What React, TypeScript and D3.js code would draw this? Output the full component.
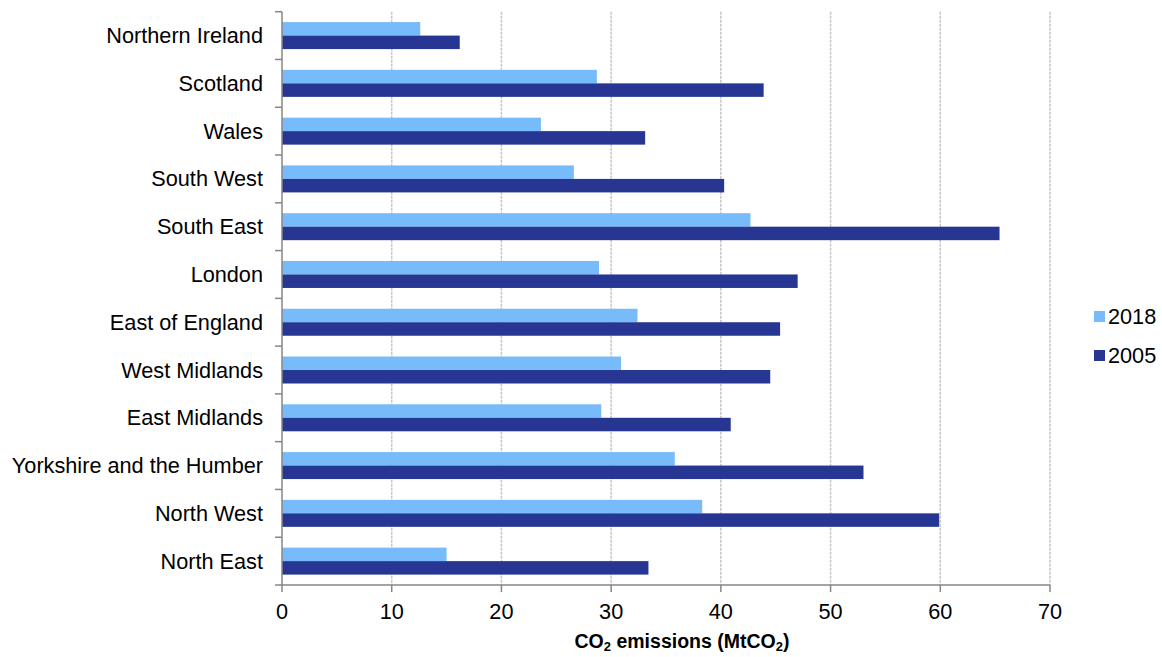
import React from "react";
import * as d3 from "d3";

const categories = [
  "Northern Ireland",
  "Scotland",
  "Wales",
  "South West",
  "South East",
  "London",
  "East of England",
  "West Midlands",
  "East Midlands",
  "Yorkshire and the Humber",
  "North West",
  "North East",
];
const seriesNames = ["2018", "2005"];
const values2018 = [12.6, 28.7, 23.6, 26.6, 42.7, 28.9, 32.4, 30.9, 29.1, 35.8, 38.3, 15.0];
const values2005 = [16.2, 43.9, 33.1, 40.3, 65.4, 47.0, 45.4, 44.5, 40.9, 53.0, 59.9, 33.4];
const xTicks = [0, 10, 20, 30, 40, 50, 60, 70];
const colors = ["#78BBFB", "#263692"];

export default function App() {
  const W = 1162, H = 657;
  const left = 282, right = 1050, top = 11.7, bottom = 585;
  const x = d3.scaleLinear().domain([0, 70]).range([left, right]);
  const y = d3.scaleBand<string>().domain(categories).range([top, bottom]).paddingInner(0.435).paddingOuter(0.2175);
  const ys = d3.scaleBand<string>().domain(seriesNames).range([0, y.bandwidth()]);
  const series = [values2018, values2005];
  const step = (bottom - top) / categories.length;
  const font = "'Liberation Sans', Arial, sans-serif";
  const fs = 21.7;
  return (
    <svg width={W} height={H} style={{ position: "absolute", left: 0, top: 0 }} fontFamily={font}>
      <rect width={W} height={H} fill="#fff" />
      {xTicks.slice(1).map((t) => (
        <line key={t} x1={x(t)} x2={x(t)} y1={top} y2={bottom} stroke="#c6c6c6" strokeWidth={1.5} strokeDasharray="3,1" />
      ))}
      {categories.map((c, i) =>
        series.map((s, k) => (
          <rect
            key={c + k}
            x={x(0)}
            y={(y(c) as number) + (ys(seriesNames[k]) as number)}
            width={x(s[i]) - x(0)}
            height={ys.bandwidth()}
            fill={colors[k]}
          />
        ))
      )}
      {/* y axis */}
      <line x1={left} x2={left} y1={top} y2={bottom} stroke="#868686" strokeWidth={1.5} />
      {d3.range(categories.length + 1).map((i) => (
        <line key={i} x1={left - 7} x2={left} y1={top + i * step} y2={top + i * step} stroke="#868686" strokeWidth={1.5} />
      ))}
      {categories.map((c) => (
        <text key={c} x={263} y={(y(c) as number) + y.bandwidth() / 2} textAnchor="end" dominantBaseline="central" fontSize={fs} fill="#000">
          {c}
        </text>
      ))}
      {/* x axis */}
      <line x1={left} x2={right} y1={bottom} y2={bottom} stroke="#868686" strokeWidth={1.5} />
      {xTicks.map((t) => (
        <line key={t} x1={x(t)} x2={x(t)} y1={bottom} y2={bottom + 7} stroke="#868686" strokeWidth={1.5} />
      ))}
      {xTicks.map((t) => (
        <text key={t} x={x(t)} y={611} textAnchor="middle" dominantBaseline="central" fontSize={fs} fill="#000">
          {t}
        </text>
      ))}
      <text x={682} y={641} textAnchor="middle" dominantBaseline="central" fontSize={19.5} fontWeight="bold" fill="#000">
        CO<tspan fontSize={13} dy={5}>2</tspan>
        <tspan dy={-5}> emissions (MtCO</tspan>
        <tspan fontSize={13} dy={5}>2</tspan>
        <tspan dy={-5}>)</tspan>
      </text>
      {/* legend */}
      {seriesNames.map((n, k) => (
        <g key={n} transform={`translate(1094, ${316.5 + k * 39})`}>
          <rect x={0} y={-5.5} width={11} height={11} fill={colors[k]} />
          <text x={14} y={0} dominantBaseline="central" fontSize={fs} fill="#000">
            {n}
          </text>
        </g>
      ))}
    </svg>
  );
}
